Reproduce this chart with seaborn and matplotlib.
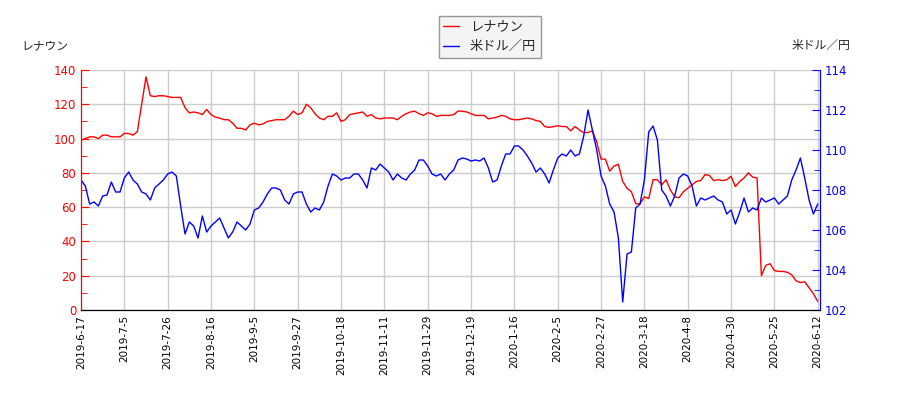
import numpy as np
import matplotlib
matplotlib.use("Agg")
import matplotlib.pyplot as plt
import seaborn as sns
from matplotlib.ticker import MultipleLocator

# tick labels (equally spaced, one every 10 points)
date_labels = ["2019-6-17", "2019-7-5", "2019-7-26", "2019-8-16", "2019-9-5", "2019-9-27",
               "2019-10-18", "2019-11-11", "2019-11-29", "2019-12-19", "2020-1-16", "2020-2-5",
               "2020-2-27", "2020-3-18", "2020-4-8", "2020-4-30", "2020-5-25", "2020-6-12"]

# レナウン stock price
renown = [99, 100, 101, 101, 100, 102, 102, 101, 101, 101,
          103, 103, 102, 104, 120, 136, 125, 124.5, 125, 125,
          124.5, 124, 124, 124, 118, 115, 115.5, 115, 114, 117,
          114, 112.5, 112, 111, 111, 109, 106, 106, 105, 108,
          109, 108, 108.5, 110, 110.5, 111, 111, 111, 113, 116,
          114, 115, 120, 118, 114.5, 112, 111, 113, 113, 115,
          110, 111, 114, 114.5, 115, 115.5, 113, 114, 112, 111.5,
          112, 112, 112, 111, 113, 114.5, 115.5, 116, 114.5, 113.5,
          115, 114.5, 113, 113.5, 113.5, 113.5, 114, 116, 116, 115.5,
          114.5, 113.5, 113.5, 113.5, 111.5, 112, 112.5, 113.5, 113, 111.5,
          111, 111, 111.5, 112, 111.5, 110.5, 110, 107, 106.5, 107,
          107.5, 107, 107, 104.5, 107, 105, 103.5, 103.5, 104.5, 98,
          88, 88, 81, 84, 85, 75, 71, 69, 62, 62,
          66, 65, 76, 76, 73, 76, 70, 66, 65.5, 69,
          71, 73, 75, 75.5, 79, 78.5, 75.5, 76, 75.5, 76,
          78, 72, 75, 77, 80, 77.5, 77, 20, 26, 27,
          23, 22.5, 22.5, 22, 20.5, 17, 16, 16.5, 13, 9.5, 5]

# 米ドル／円 exchange rate
usdjpy = [108.5, 108.2, 107.3, 107.4, 107.2, 107.7, 107.75, 108.4, 107.9, 107.9,
          108.6, 108.9, 108.5, 108.3, 107.9, 107.8, 107.5, 108.1, 108.3, 108.5,
          108.8, 108.9, 108.7, 107.2, 105.8, 106.4, 106.2, 105.6, 106.7, 105.9,
          106.2, 106.4, 106.6, 106.1, 105.6, 105.9, 106.4, 106.2, 106.0, 106.3,
          107.0, 107.1, 107.4, 107.8, 108.1, 108.1, 108.0, 107.5, 107.3, 107.8,
          107.9, 107.9, 107.3, 106.9, 107.1, 107.0, 107.4, 108.2, 108.8, 108.7,
          108.5, 108.6, 108.6, 108.8, 108.8, 108.5, 108.1, 109.1, 109.0, 109.3,
          109.1, 108.9, 108.5, 108.8, 108.6, 108.5, 108.8, 109.0, 109.5, 109.5,
          109.2, 108.8, 108.7, 108.8, 108.5, 108.8, 109.0, 109.5, 109.6, 109.55,
          109.45, 109.5, 109.45, 109.6, 109.1, 108.4, 108.5, 109.2, 109.8, 109.8,
          110.2, 110.2, 110.0, 109.7, 109.35, 108.9, 109.1, 108.8, 108.35, 109.0,
          109.6, 109.8, 109.7, 110.0, 109.7, 109.8, 110.7, 112.0, 111.0, 110.0,
          108.7, 108.2, 107.3, 106.9, 105.6, 102.4, 104.8, 104.9, 107.1, 107.3,
          108.5, 110.9, 111.2, 110.5, 108.0, 107.7, 107.2, 107.7, 108.6, 108.8,
          108.7, 108.2, 107.2, 107.6, 107.5, 107.6, 107.7, 107.5, 107.4, 106.8,
          107.0, 106.3, 106.9, 107.6, 106.9, 107.1, 107.0, 107.6, 107.4, 107.5,
          107.6, 107.3, 107.5, 107.7, 108.5, 109.0, 109.6, 108.6, 107.5, 106.8, 107.3]

idx = np.arange(len(renown))
tick_pos = np.arange(0, len(renown), 10)

sns.set_style("white")
plt.rcParams['font.family'] = ['DejaVu Sans', 'Noto Sans CJK JP']

fig = plt.figure(figsize=(9, 4), dpi=100)
ax = fig.add_axes([0.09, 0.225, 0.821, 0.6])
ax2 = ax.twinx()

sns.lineplot(x=idx, y=renown, ax=ax, color="red", linewidth=1.0, label="レナウン", legend=False)
sns.lineplot(x=idx, y=usdjpy, ax=ax2, color="blue", linewidth=1.0, label="米ドル／円", legend=False)

ax.set_xlim(0, 170.5)
ax.set_ylim(0, 140)
ax2.set_ylim(102, 114)

ax.set_xticks(tick_pos)
ax.set_xticklabels(date_labels, rotation=90, fontsize=7.5)
ax.yaxis.set_major_locator(MultipleLocator(20))
ax.yaxis.set_minor_locator(MultipleLocator(10))
ax2.yaxis.set_major_locator(MultipleLocator(2))
ax2.yaxis.set_minor_locator(MultipleLocator(1))

ax.grid(True, color="#cccccc", linewidth=1.0)
ax.set_axisbelow(True)

ax.tick_params(axis="x", direction="in", length=5, colors="black", labelsize=7.5)
ax.tick_params(axis="y", which="major", direction="in", length=6, colors="red", labelsize=8.5)
ax.tick_params(axis="y", which="minor", direction="in", length=4, colors="red")
ax2.tick_params(axis="y", which="major", direction="in", length=6, colors="blue", labelsize=8.5)
ax2.tick_params(axis="y", which="minor", direction="in", length=4, colors="blue")

for a in (ax, ax2):
    a.spines["top"].set_visible(False)
    a.spines["left"].set_color("red")
    a.spines["right"].set_color("blue")
    a.spines["bottom"].set_color("black")
    a.set_xlabel("")
    a.set_ylabel("")

fig.text(0.024, 0.887, "レナウン", fontsize=8.5, va="center", ha="left")
fig.text(0.945, 0.887, "米ドル／円", fontsize=8.5, va="center", ha="right")

h1, l1 = ax.get_legend_handles_labels()
h2, l2 = ax2.get_legend_handles_labels()
leg = fig.legend(h1 + h2, l1 + l2, loc="upper center", bbox_to_anchor=(0.544, 0.96),
                 borderaxespad=0, fontsize=9.5, frameon=True, fancybox=False,
                 handlelength=1.2, borderpad=0.35, labelspacing=0.5)
leg.get_frame().set_facecolor("#f2f2f2")
leg.get_frame().set_edgecolor("#808080")

fig.savefig("out.png", dpi=100)
